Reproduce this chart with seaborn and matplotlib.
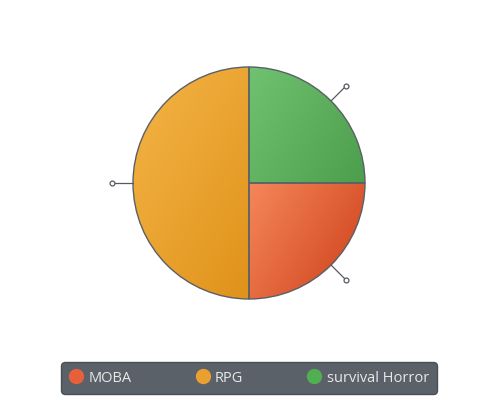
import numpy as np
import matplotlib

matplotlib.use("Agg")

import matplotlib.pyplot as plt
import seaborn as sns
from matplotlib.colors import LinearSegmentedColormap
from matplotlib.lines import Line2D

# data
genres = ["MOBA", "RPG", "survival Horror"]
shares = [25, 50, 25]

# light -> dark tone per slice (gradient), plus legend dot colour
light_tones = ["#f5875a", "#f0ae3e", "#70c270"]
dark_tones = ["#d8522a", "#e0921a", "#4c9e4c"]
dot_colors = ["#e8603a", "#eaa030", "#52ae52"]

sns.set_theme(style="white")
plt.rcParams["font.family"] = ["Open Sans", "DejaVu Sans"]

fig = plt.figure(figsize=(4.98, 4.0), dpi=100)
W, H = 498, 400
cx, cy, r_px = 249, 183, 116
half = 1.25 * r_px
ax = fig.add_axes([(cx - half) / W, (H - cy - half) / H, 2 * half / W, 2 * half / H])

wedges, _ = ax.pie(
    shares,
    startangle=0,
    counterclock=False,
    colors=sns.color_palette(dot_colors),
    wedgeprops={"edgecolor": "#5a6066", "linewidth": 1.0},
)
ax.set_xlim(-1.25, 1.25)
ax.set_ylim(-1.25, 1.25)
ax.set_aspect("equal")
ax.axis("off")

# gradient fill clipped to each wedge (light upper-left -> dark lower-right)
xx, yy = np.meshgrid(np.linspace(-1, 1, 200), np.linspace(1, -1, 200))
for w, lo, hi in zip(wedges, light_tones, dark_tones):
    cmap = LinearSegmentedColormap.from_list("g", [lo, hi])
    th1, th2 = np.deg2rad(w.theta1), np.deg2rad(w.theta2)
    angs = np.linspace(th1, th2, 50)
    px = np.concatenate([[0], np.cos(angs)])
    py = np.concatenate([[0], np.sin(angs)])
    proj = px - 0.6 * py
    g = (xx - 0.6 * yy - proj.min()) / (proj.max() - proj.min() + 1e-9)
    im = ax.imshow(np.clip(g, 0, 1), extent=(-1, 1, -1, 1), cmap=cmap,
                   vmin=0, vmax=1, zorder=w.get_zorder() + 0.1, origin="upper")
    im.set_clip_path(w)
    w.set_facecolor("none")
    w.set_zorder(w.get_zorder() + 0.2)

# leader lines with small hollow circles
for w in wedges:
    mid = np.deg2rad((w.theta1 + w.theta2) / 2)
    x0, y0 = np.cos(mid), np.sin(mid)
    x1, y1 = 1.18 * x0, 1.18 * y0
    ax.plot([x0, x1], [y0, y1], color="#555a60", lw=0.9, zorder=5)
    ax.plot([x1], [y1], marker="o", ms=3.5, mfc="white", mec="#555a60",
            mew=0.9, zorder=6)

# legend box
handles = [
    Line2D([0], [0], marker="o", linestyle="none", markersize=10,
           markerfacecolor=c, markeredgecolor=c)
    for c in dot_colors
]
leg = fig.legend(
    handles, genres,
    loc="center",
    bbox_to_anchor=(61 / W, (H - 394) / H, 376 / W, 32 / H),
    mode="expand",
    ncol=3,
    frameon=True,
    fancybox=True,
    facecolor="#5b6168",
    edgecolor="#4a4f55",
    framealpha=1.0,
    labelcolor="#e8e8e8",
    fontsize=10.5,
    handletextpad=0.35,
    borderpad=0.55,
    handlelength=1.0,
    borderaxespad=0,
)
leg.get_frame().set_boxstyle("round", pad=0.0, rounding_size=0.25)

fig.savefig("out.png", dpi=100)
